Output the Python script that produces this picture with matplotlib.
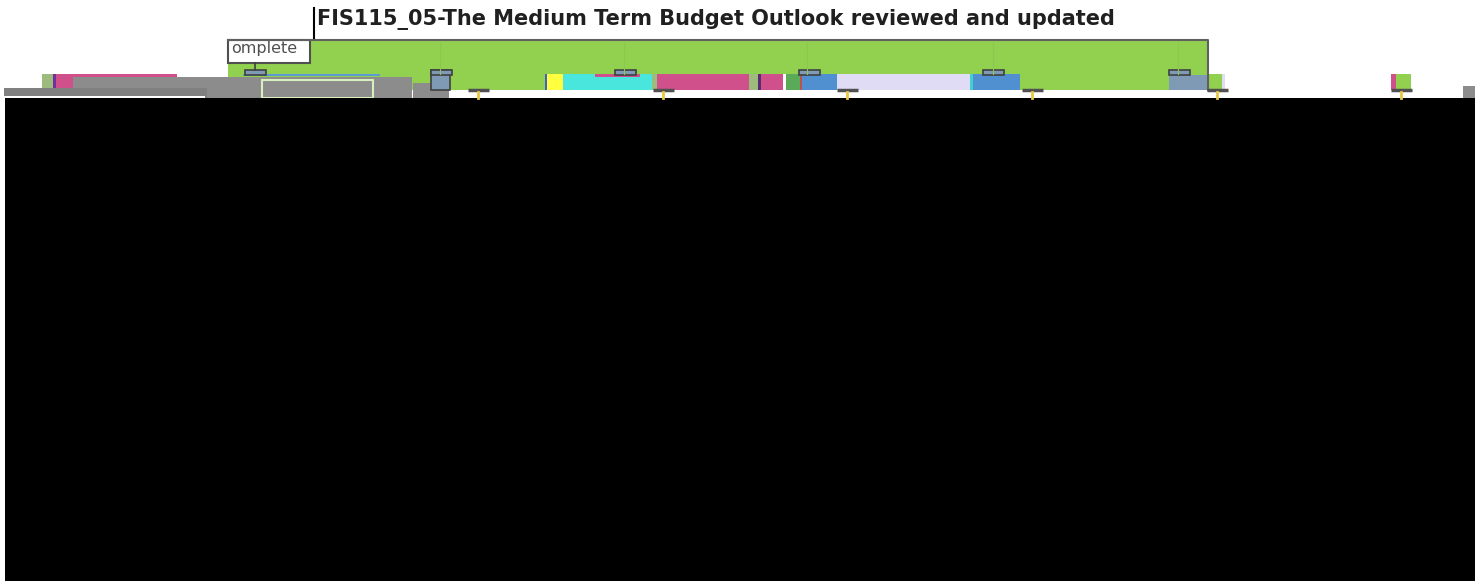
import matplotlib
matplotlib.use("Agg")
import matplotlib.pyplot as plt

# title and label text
title = "FIS115_05-The Medium Term Budget Outlook reviewed and updated"
summary_label = "omplete"

# summary bar (timeline units)
summary_start = 228
summary_end = 1208

# task segments on the first row
seg_left = [42, 53, 56, 545, 547, 563, 652, 657, 749, 758, 761, 783, 786, 800, 802,
            837, 970, 973, 1209, 1222, 1391, 1396]
seg_right = [53, 56, 73, 547, 563, 652, 657, 749, 758, 761, 783, 786, 800, 802, 837,
             970, 973, 1020, 1222, 1225, 1396, 1411]
seg_color = ["#9dbb7d", "#7030a0", "#d0508c", "#4060d0", "#ffff40", "#48e6dc", "#9dbb7d",
             "#d0508c", "#9dbb7d", "#5a2a70", "#d0508c", "#ffffff", "#5aaa5a", "#c05050",
             "#5090d0", "#e0dcf5", "#40d0d0", "#5090d0", "#92d050", "#e0dcf5", "#d0508c",
             "#92d050"]

# grey blocks left over from the occluded rows
grey_left = [73, 4, 413, 1169, 1463]
grey_right = [412, 207, 449, 1207, 1475]
grey_top = [77, 88, 83, 75, 86]
grey_bottom = [98, 98, 98, 90, 98]
grey_color = ["#8c8c8c", "#808080", "#8c8c8c", "#7f9ab5", "#8c8c8c"]

# folder tabs, milestones and month grid
tab_left = [245, 431, 615, 799, 983, 1169]
milestone_left = [468, 653, 837, 1022, 1207, 1391]
grid_x = [440, 624, 807, 993, 1178]

fig = plt.figure(figsize=(14.75, 5.81), dpi=100)
ax = fig.add_axes([0, 0, 1, 1])
ax.set_xlim(0, 1475)
ax.set_ylim(581, 0)
ax.axis("off")

# summary bar
ax.barh(65, summary_end - summary_start, left=summary_start, height=50,
        color="#92d050", edgecolor="none")
ax.plot([summary_start, summary_end, summary_end], [40, 40, 90], color="#606060", lw=1.5)
for gx in grid_x:
    ax.plot([gx, gx], [41, 74], color="#8cc850", lw=0.8)

# task row
widths = [r - l for l, r in zip(seg_left, seg_right)]
ax.barh(82, widths, left=seg_left, height=16, color=seg_color, edgecolor="none")
ax.barh(75.5, 104, left=73, height=3, color="#d0508c", edgecolor="none")
ax.barh(75, 137, left=243, height=2, color="#5b9bd5", edgecolor="none")
ax.barh(75.5, 45, left=595, height=3, color="#d0508c", edgecolor="none")

# grey blocks
gw = [r - l for l, r in zip(grey_left, grey_right)]
gh = [b - t for t, b in zip(grey_top, grey_bottom)]
gc = [(t + b) / 2 for t, b in zip(grey_top, grey_bottom)]
ax.barh(gc, gw, left=grey_left, height=gh, color=grey_color, edgecolor="none")
ax.barh(89, 111, left=262, height=18, color="#8c8c8c", edgecolor="#d8f0c0", lw=1.5)
ax.barh(97, 201, left=4, height=2, color="#ffffff", edgecolor="none")
ax.barh(80, 19, left=431, height=20, color="#7f9ab5", edgecolor="#404040", lw=1.2)

# tabs
ax.barh([72.5] * len(tab_left), [21] * len(tab_left), left=tab_left, height=5,
        color="#7f9ab5", edgecolor="#404040", lw=1.2)

# milestones
for m in milestone_left:
    ax.plot([m, m + 21], [90, 90], color="#505050", lw=2.5, solid_capstyle="butt")
    ax.plot([m + 10, m + 10], [91.5, 98], color="#e8c840", lw=2)

# label box
ax.barh(51.5, 82, left=228, height=23, color="#ffffff", edgecolor="#505050", lw=1.5)
ax.plot([255, 255], [63, 70], color="#404040", lw=1.2)
ax.text(231, 48, summary_label, fontsize=11.5, color="#505050", va="center", ha="left")

# title
ax.plot([314, 314], [8, 38], color="#000000", lw=1.5)
ax.text(317, 19, title, fontsize=15, fontweight="bold", color="#202020",
        ha="left", va="center")

# occluded area
ax.barh(339.5, 1470, left=5, height=483, color="#000000", edgecolor="none")

fig.savefig("out.png", dpi=100)
